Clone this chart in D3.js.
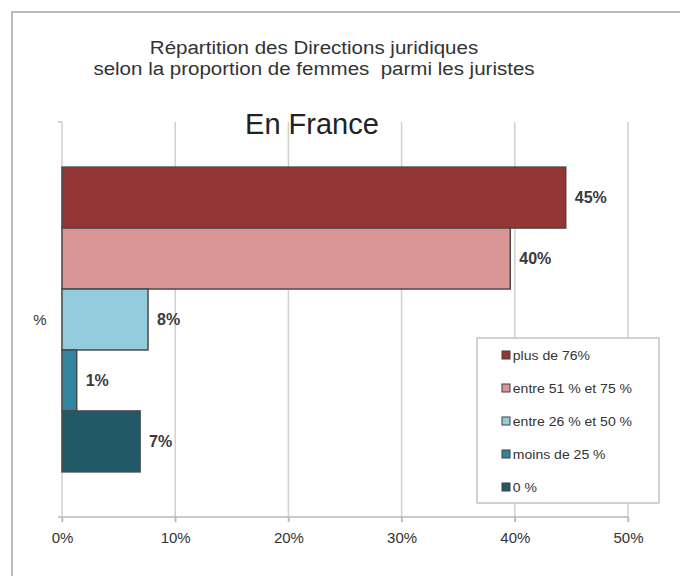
<!DOCTYPE html>
<html>
<head>
<meta charset="utf-8">
<script src="https://cdn.jsdelivr.net/npm/d3@7"></script>
<style>
  body { margin: 0; background: #fff; }
  text { font-family: "Liberation Sans", Arial, sans-serif; fill: #333; }
</style>
</head>
<body>
<div id="chart"></div>
<script>
// data
var categories = ["%"];
var series = ["plus de 76%", "entre 51 % et 75 %", "entre 26 % et 50 %", "moins de 25 %", "0 %"];
var values = [44.5, 39.6, 7.6, 1.3, 6.9];
var valueLabels = ["45%", "40%", "8%", "1%", "7%"];
var ticks = [0, 10, 20, 30, 40, 50];
var colors = ["#943634", "#d99694", "#93cddd", "#31859c", "#215968"];

var width = 680, height = 576;
var plotLeft = 62, plotRight = 628, plotTop = 122, plotBottom = 517;

var svg = d3.select("#chart").append("svg")
  .attr("width", width)
  .attr("height", height);

// outer frame (cropped at right and bottom)
svg.append("path")
  .attr("d", "M12," + height + "V12H" + width)
  .attr("fill", "none")
  .attr("stroke", "#a6a6a6")
  .attr("stroke-width", 1.5);

// titles
svg.append("text")
  .attr("x", 314).attr("y", 54)
  .attr("text-anchor", "middle")
  .style("font-size", "19px")
  .attr("transform", "translate(314,0) scale(1.08,1) translate(-314,0)")
  .text("Répartition des Directions juridiques");
svg.append("text")
  .attr("x", 314).attr("y", 75)
  .attr("text-anchor", "middle")
  .style("font-size", "19px")
  .style("white-space", "pre")
  .attr("xml:space", "preserve")
  .attr("transform", "translate(314,0) scale(1.08,1) translate(-314,0)")
  .text("selon la proportion de femmes  parmi les juristes");

var x = d3.scaleLinear().domain([0, 50]).range([plotLeft, plotRight]);
var y0 = d3.scaleBand().domain(categories).range([plotTop, plotBottom]);
var y1 = d3.scaleBand().domain(series).range([0, y0.bandwidth()])
  .paddingInner(0).paddingOuter(0.74);

// gridlines
svg.append("g").selectAll("line")
  .data(ticks)
  .enter().append("line")
  .attr("x1", function(d) { return x(d); })
  .attr("x2", function(d) { return x(d); })
  .attr("y1", plotTop).attr("y2", plotBottom + 5)
  .attr("stroke", "#d0d0d0")
  .attr("stroke-width", 1.5);

// small tick at top of y axis
svg.append("line")
  .attr("x1", plotLeft - 4).attr("x2", plotLeft)
  .attr("y1", plotTop).attr("y2", plotTop)
  .attr("stroke", "#c8c8c8").attr("stroke-width", 1.5);

// x axis
var xAxis = d3.axisBottom(x)
  .tickValues(ticks)
  .tickSize(5)
  .tickPadding(10)
  .tickFormat(function(d) { return d + "%"; });

var gx = svg.append("g")
  .attr("transform", "translate(0," + plotBottom + ")")
  .call(xAxis);
gx.select(".domain")
  .attr("d", "M" + (plotLeft - 4) + ",0H" + plotRight)
  .attr("stroke", "#b8b8b8").attr("stroke-width", 1.5);
gx.selectAll(".tick line").attr("stroke", "#b8b8b8").attr("stroke-width", 1.5);
gx.selectAll(".tick text")
  .style("font-size", "15px")
  .style("fill", "#333");

// "En France" label
svg.append("text")
  .attr("x", 312).attr("y", 134)
  .attr("text-anchor", "middle")
  .style("font-size", "29px")
  .style("fill", "#222")
  .text("En France");

// category label on y axis
var gy = svg.append("g").selectAll("g")
  .data(categories)
  .enter().append("g")
  .attr("transform", function(d) { return "translate(0," + y0(d) + ")"; });

gy.append("text")
  .attr("x", 40)
  .attr("y", y0.bandwidth() / 2)
  .attr("dy", "0.35em")
  .attr("text-anchor", "middle")
  .style("font-size", "15px")
  .text(function(d) { return d; });

// bars
gy.selectAll("rect")
  .data(series)
  .enter().append("rect")
  .attr("x", x(0))
  .attr("y", function(d) { return y1(d); })
  .attr("width", function(d, i) { return x(values[i]) - x(0); })
  .attr("height", y1.bandwidth())
  .attr("fill", function(d, i) { return colors[i]; })
  .attr("stroke", "#4a4a4a")
  .attr("stroke-width", 1.5);

// value labels
gy.selectAll(".val")
  .data(series)
  .enter().append("text")
  .attr("class", "val")
  .attr("x", function(d, i) { return x(values[i]) + 9; })
  .attr("y", function(d) { return y1(d) + y1.bandwidth() / 2; })
  .attr("dy", "0.35em")
  .style("font-size", "16px")
  .style("font-weight", "bold")
  .style("fill", "#3a3a3a")
  .text(function(d, i) { return valueLabels[i]; });

// legend
var legend = svg.append("g").attr("transform", "translate(477,338)");
legend.append("rect")
  .attr("width", 182).attr("height", 165)
  .attr("fill", "#fff")
  .attr("stroke", "#c4c4c4")
  .attr("stroke-width", 1.5);

var items = legend.selectAll(".item")
  .data(series)
  .enter().append("g")
  .attr("class", "item")
  .attr("transform", function(d, i) { return "translate(25," + (17 + i * 33) + ")"; });

items.append("rect")
  .attr("x", 0).attr("y", -4)
  .attr("width", 8).attr("height", 8)
  .attr("fill", function(d, i) { return colors[i]; })
  .attr("stroke", "#404040")
  .attr("stroke-width", 1);

items.append("text")
  .attr("x", 10)
  .attr("dy", "0.35em")
  .style("font-size", "13px")
  .attr("transform", "scale(1.08,1)")
  .text(function(d) { return d; });
</script>
</body>
</html>
